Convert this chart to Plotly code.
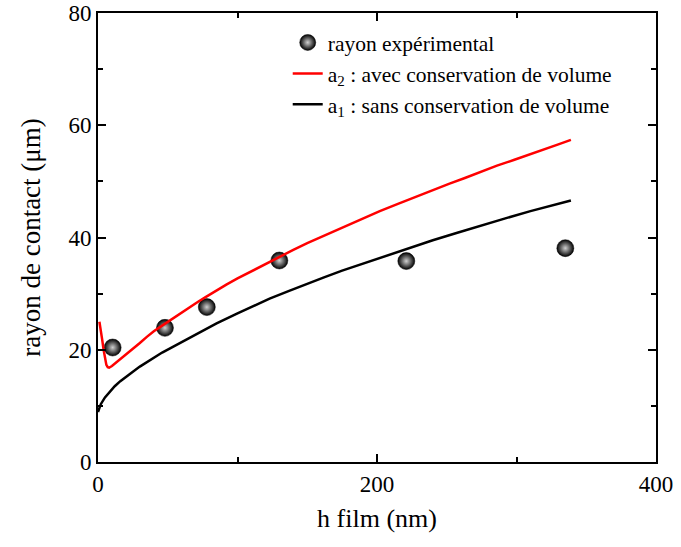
import plotly.graph_objects as go

# Experimental points
h_exp = [10.5, 48, 78, 130, 221, 335]
r_exp = [20.4, 23.9, 27.6, 35.9, 35.8, 38.1]

# a2 : avec conservation de volume (red)
h_a2 = [1, 2, 3, 4, 5, 6, 7, 8, 10, 12, 16, 20, 25, 30, 35, 40, 46, 52, 58, 65, 72, 78, 85, 92, 100, 110, 120, 130, 140, 150, 160, 170, 180, 190, 202, 215, 228, 240, 252, 263, 274, 286, 298, 310, 320, 330, 339]
r_a2 = [25.0, 23.6, 21.8, 20.0, 18.4, 17.3, 16.9, 16.8, 17.1, 17.5, 18.3, 19.1, 20.2, 21.2, 22.3, 23.3, 24.3, 25.3, 26.3, 27.5, 28.6, 29.5, 30.6, 31.6, 32.7, 34.0, 35.3, 36.5, 37.8, 39.0, 40.1, 41.3, 42.4, 43.4, 44.7, 46.0, 47.3, 48.5, 49.6, 50.6, 51.7, 52.8, 53.8, 54.9, 55.7, 56.6, 57.4]

# a1 : sans conservation de volume (black)
h_a1 = [0, 2, 5, 8, 12, 16, 20, 25, 30, 35, 40, 46, 52, 60, 68, 75, 85, 100, 112, 123, 137, 150, 162, 175, 188, 202, 220, 240, 257, 274, 292, 310, 325, 339]
r_a1 = [8.9, 10.3, 11.5, 12.4, 13.5, 14.4, 15.2, 16.1, 17.0, 17.8, 18.6, 19.5, 20.3, 21.4, 22.5, 23.4, 24.7, 26.5, 27.9, 29.1, 30.5, 31.8, 32.9, 34.1, 35.2, 36.4, 37.9, 39.5, 40.8, 42.1, 43.4, 44.7, 45.7, 46.6]

FONT = "Liberation Serif"

fig = go.Figure()
fig.add_trace(go.Scatter(
    x=h_exp, y=r_exp, mode="markers", name="rayon expérimental",
    marker=dict(size=17, color="#000000",
                gradient=dict(type="radial", color="#d0d0d0"),
                line=dict(width=0.5, color="#000000")),
))
fig.add_trace(go.Scatter(
    x=h_a2, y=r_a2, mode="lines", name="a<sub>2</sub> : avec conservation de volume",
    line=dict(color="#ff0000", width=2.5),
))
fig.add_trace(go.Scatter(
    x=h_a1, y=r_a1, mode="lines", name="a<sub>1</sub> : sans conservation de volume",
    line=dict(color="#000000", width=2.5),
))

axis_common = dict(
    showline=True, linecolor="black", linewidth=2, mirror="ticks",
    ticks="inside", ticklen=8, tickwidth=1.5, tickcolor="black",
    showgrid=False, zeroline=False, automargin=False,
    tickfont=dict(family=FONT, size=23, color="black"),
)

fig.update_xaxes(
    range=[0, 400], tickvals=[0, 200, 400],
    minor=dict(ticks="inside", ticklen=5, tickwidth=1.5, tickcolor="black", dtick=100, showgrid=False),
    title=dict(text="h film (nm)", font=dict(family=FONT, size=26, color="black"), standoff=13),
    **axis_common,
)
fig.update_yaxes(
    range=[0, 80], tickvals=[0, 20, 40, 60, 80],
    minor=dict(ticks="inside", ticklen=5, tickwidth=1.5, tickcolor="black", dtick=10, showgrid=False),
    title=dict(text="rayon de contact (μm)", font=dict(family=FONT, size=27, color="black"), standoff=20),
    **axis_common,
)

fig.update_layout(
    width=681, height=547,
    margin=dict(l=98, r=25, t=13, b=85, autoexpand=False),
    paper_bgcolor="white", plot_bgcolor="white",
    showlegend=True,
    legend=dict(x=0.34, y=0.98, xanchor="left", yanchor="top",
                bgcolor="rgba(0,0,0,0)", tracegroupgap=0,
                font=dict(family=FONT, size=21.5, color="black")),
)

fig.write_html("out.html", config={"displayModeBar": False},
               post_script="document.body.style.margin='0px';")
